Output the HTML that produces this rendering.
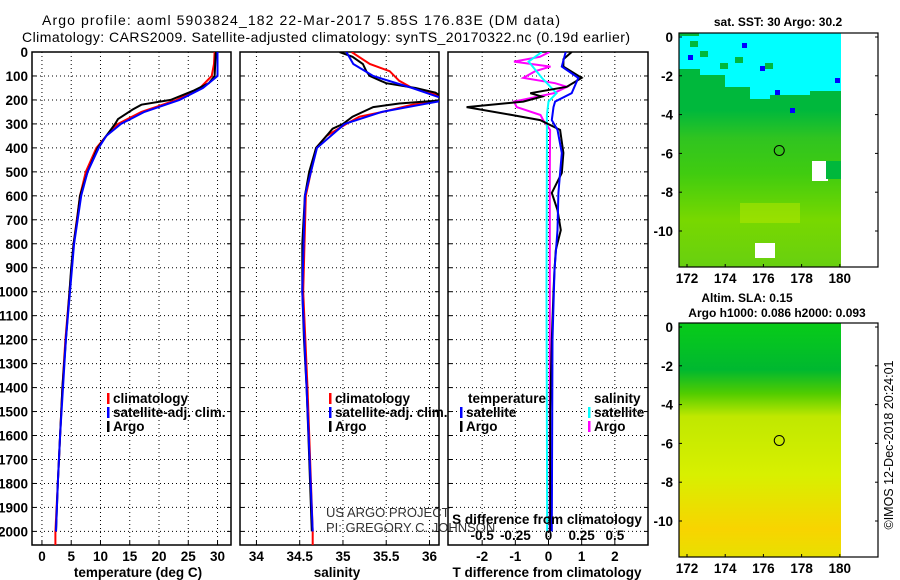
<!DOCTYPE html>
<html><head><meta charset="utf-8"><style>
html,body{margin:0;padding:0;background:#fff}
svg{display:block;font-family:"Liberation Sans",sans-serif}
.t{font-weight:bold;font-size:13.5px;fill:#000}
</style></head><body>
<svg id="c" width="900" height="580" viewBox="0 0 900 580">
<defs>
<linearGradient id="g2" x1="0" y1="0" x2="0" y2="1">
<stop offset="0" stop-color="#08cc18"/><stop offset="0.2" stop-color="#00b830"/><stop offset="0.3" stop-color="#50cc00"/><stop offset="0.4" stop-color="#c0e800"/><stop offset="0.65" stop-color="#d8f000"/><stop offset="0.88" stop-color="#f8d400"/><stop offset="1" stop-color="#e8e000"/>
</linearGradient>
<linearGradient id="g1" x1="0" y1="0" x2="0" y2="1">
<stop offset="0" stop-color="#00b83c"/><stop offset="0.33" stop-color="#00b83c"/><stop offset="0.45" stop-color="#30c420"/><stop offset="0.6" stop-color="#40cc10"/><stop offset="0.8" stop-color="#78d800"/><stop offset="1" stop-color="#68d010"/>
</linearGradient>
</defs>
<text x="42" y="25" style="font-size:14px" textLength="518">Argo profile: aoml 5903824_182 22-Mar-2017 5.85S 176.83E (DM data)</text>
<text x="22" y="42" style="font-size:14px" textLength="608">Climatology: CARS2009. Satellite-adjusted climatology: synTS_20170322.nc (0.19d earlier)</text>
<g id="plots"></g>
<g id="maps"></g>
<text transform="translate(893,445) rotate(-90)" text-anchor="middle" style="font-size:12.5px">©IMOS 12-Dec-2018 20:24:01</text>
</svg>
<script>
// ---- data ----
const depthTicks=[0,100,200,300,400,500,600,700,800,900,1000,1100,1200,1300,1400,1500,1600,1700,1800,1900,2000];
const tempTicks=[0,5,10,15,20,25,30];
const salTicks=[34,34.5,35,35.5,36];
const tdiffTicks=[-2,-1,0,1,2];
const sdiffTicks=[-0.5,-0.25,0,0.25,0.5];
const tArgoD=[0,50,100,130,160,200,220,240,280,300,350,400,500,600,700,800,900,1000,1200,1400,1600,1800,2000];
const tArgo=[29.7,29.6,29.5,28.5,26,22,17,15.5,13,12.5,11,9.5,7.8,6.5,6,5.4,5,4.7,4.1,3.5,3.1,2.7,2.4];
const tClimD=[0,50,100,150,200,250,300,350,400,500,600,800,1000,1200,1400,1600,1800,2000,2070];
const tClim=[29.5,29.4,29,27,23,17,13,11,9.3,7.5,6.5,5.4,4.7,4.0,3.5,3.1,2.7,2.3,2.3];
const tSatD=[0,100,150,200,250,300,350,400,500,600,800,1000,1200,1400,1600,1800,2000];
const tSat=[30,30,27.5,23.5,17.5,13.5,11,9.7,7.8,6.7,5.5,4.8,4.1,3.6,3.1,2.7,2.4];
const sArgoD=[0,20,50,80,100,130,150,170,200,215,230,250,270,300,320,350,400,500,600,800,1000,1200,1400,1600,1800,2000];
const sArgo=[34.96,35.11,35.23,35.27,35.31,35.5,35.84,36.07,36.2,35.65,35.35,35.23,35.11,35.0,34.88,34.81,34.69,34.61,34.56,34.53,34.53,34.55,34.58,34.6,34.62,34.64];
const sClimD=[0,50,80,120,150,180,200,220,250,270,300,350,400,600,1000,1400,2000,2070];
const sClim=[35.1,35.31,35.54,35.65,35.8,36.1,36.2,35.8,35.46,35.19,35.04,34.81,34.69,34.57,34.54,34.59,34.65,34.65];
const sSatD=[0,50,100,150,200,220,250,300,400,600,1000,1400,2000];
const sSat=[35.04,35.12,35.35,35.8,36.2,35.9,35.45,35.02,34.7,34.56,34.53,34.58,34.65];
const dTArgoD=[0,30,61,108,145,172,186,207,230,263,284,325,421,505,588,659,743,826,910,1000,1200,1500,2000];
const dTArgo=[0.7,0.45,0.45,1.0,0.55,-0.55,-0.2,-0.76,-2.47,-1.1,-0.25,0.35,0.45,0.4,0.1,0.27,0.37,0.22,0.18,0.15,0.1,0.05,0.05];
const dTSatD=[0,61,108,172,207,230,284,325,421,505,588,743,910,1200,2000];
const dTSat=[0.52,0.4,0.9,0.7,0.2,0.15,0.1,0.27,0.4,0.35,0.3,0.27,0.18,0.12,0.1];
const dSArgoD=[0,20,40,61,80,108,130,145,172,207,230,263,284,325,500,1000,2000];
const dSArgo=[0.008,-0.065,-0.26,0.015,-0.1,-0.19,0.05,0.14,0.04,-0.26,-0.24,-0.06,-0.04,0.012,0.01,0.01,0.01];
const dSSatD=[0,40,108,172,207,263,400,1000,2000];
const dSSat=[-0.05,-0.15,-0.05,0.06,0,-0.012,-0.012,-0.015,-0.01];
const latTicks=[0,-2,-4,-6,-8,-10];
const lonTicks=[172,174,176,178,180];

const NS='http://www.w3.org/2000/svg';
const root=document.getElementById('plots');
function mk(tag,attrs,parent,text){const e=document.createElementNS(NS,tag);for(const k in attrs)e.setAttribute(k,attrs[k]);if(text!==undefined)e.textContent=text;(parent||root).appendChild(e);return e;}
const top0=52,bot=545;
const yD=d=>top0+d*0.2397;
function panel(x0,x1,lo,hi,xt,name){
  const xs=v=>x0+(v-lo)/(hi-lo)*(x1-x0);
  const g=mk('g',{});
  
  
  depthTicks.forEach(d=>{if(d>0)mk('line',{x1:x0,x2:x1,y1:yD(d),y2:yD(d),stroke:'#000','stroke-width':1,'stroke-dasharray':'1 3'},g);
    mk('line',{x1:x0,x2:x0+4,y1:yD(d),y2:yD(d),stroke:'#000'},g);mk('line',{x1:x1-4,x2:x1,y1:yD(d),y2:yD(d),stroke:'#000'},g);});
  xt.forEach(v=>{mk('line',{x1:xs(v),x2:xs(v),y1:top0,y2:bot,stroke:'#000','stroke-dasharray':'1 3'},g);
    mk('line',{x1:xs(v),x2:xs(v),y1:bot-4,y2:bot,stroke:'#000'},g);});
  mk('rect',{x:x0,y:top0,width:x1-x0,height:bot-top0,fill:'none',stroke:'#000','stroke-width':1.5},g);
  return {g,xs};
}
function line(p,xs,vals,ds,color,name,w){
  let pts=ds.map((d,i)=>xs(vals[i]).toFixed(1)+','+yD(d).toFixed(1)).join(' ');
  const e=mk('polyline',{points:pts,fill:'none',stroke:color,'stroke-width':w||2},p.g);
  
  
}
function clipRect(id,x0,x1){const c=mk('clipPath',{id});mk('rect',{x:x0,y:top0,width:x1-x0,height:bot-top0},c);}
clipRect('cp1',32,231);clipRect('cp2',240,439);clipRect('cp3',448,648);

// panel 1
const p1=panel(32,231,-1.7,32.3,tempTicks,'temperature-panel');
const g1=mk('g',{'clip-path':'url(#cp1)'},p1.g);const q1={g:g1};
line(q1,p1.xs,tClim,tClimD,'#f00','climatology-temperature-line');
line(q1,p1.xs,tArgo,tArgoD,'#000','argo-temperature-line');
line(q1,p1.xs,tSat,tSatD,'#00f','satellite-temperature-line');
depthTicks.forEach(d=>{const t=mk('text',{x:28,y:yD(d)+5,'text-anchor':'end',class:'t'},root,d);
  });
tempTicks.forEach(v=>{const t=mk('text',{x:p1.xs(v),y:561,'text-anchor':'middle',class:'t'},root,v);
  });
mk('text',{x:138,y:577,'text-anchor':'middle',class:'t'},root,'temperature (deg C)');

// panel 2
const p2=panel(240,439,33.81,36.11,salTicks,'salinity-panel');
const g2=mk('g',{'clip-path':'url(#cp2)'},p2.g);const q2={g:g2};
line(q2,p2.xs,sClim,sClimD,'#f00','climatology-salinity-line');
line(q2,p2.xs,sArgo,sArgoD,'#000','argo-salinity-line');
line(q2,p2.xs,sSat,sSatD,'#00f','satellite-salinity-line');
salTicks.forEach(v=>{const t=mk('text',{x:p2.xs(v),y:561,'text-anchor':'middle',class:'t'},root,v);
  });
mk('text',{x:337,y:577,'text-anchor':'middle',class:'t'},root,'salinity');

// panel 3
const p3=panel(448,648,-3.03,3.0,tdiffTicks,'difference-panel');
const g3=mk('g',{'clip-path':'url(#cp3)'},p3.g);const q3={g:g3};
const xs3=p3.xs, xsS=v=>p3.xs(v*4);
line(q3,xsS,dSArgo,dSArgoD,'#f0f','argo-salinity-diff-line');
line(q3,xsS,dSSat,dSSatD,'#0ff','satellite-salinity-diff-line');
line(q3,xs3,dTArgo,dTArgoD,'#000','argo-temperature-diff-line');
line(q3,xs3,dTSat,dTSatD,'#00f','satellite-temperature-diff-line');
tdiffTicks.forEach(v=>{const t=mk('text',{x:xs3(v),y:561,'text-anchor':'middle',class:'t'},root,v);
  });
sdiffTicks.forEach(v=>{const t=mk('text',{x:xsS(v),y:540,'text-anchor':'middle',class:'t'},root,v);
  });
mk('text',{x:547,y:524,'text-anchor':'middle',class:'t'},root,'S difference from climatology');
mk('text',{x:547,y:577,'text-anchor':'middle',class:'t'},root,'T difference from climatology');

// legends
function leg(x,y,color,label,name){const g=mk('g',{});
  if(color)mk('rect',{x:x,y:y-10,width:2.5,height:11,fill:color},g);
  mk('text',{x:x+(color?6:0),y:y,class:'t'},g,label);}
leg(107,403,'#f00','climatology','legend-climatology');
leg(107,417,'#00f','satellite-adj. clim.','legend-satellite-adj');
leg(107,431,'#000','Argo','legend-argo');
leg(329,403,'#f00','climatology','legend-climatology-2');
leg(329,417,'#00f','satellite-adj. clim.','legend-satellite-adj-2');
leg(329,431,'#000','Argo','legend-argo-2');
leg(468,403,null,'temperature','legend-temperature-header');
leg(460,417,'#00f','satellite','legend-t-satellite');
leg(460,431,'#000','Argo','legend-t-argo');
leg(594,403,null,'salinity','legend-salinity-header');
leg(588,417,'#0ff','satellite','legend-s-satellite');
leg(588,431,'#f0f','Argo','legend-s-argo');
mk('text',{x:326,y:517,style:'font-size:13px;fill:#333'},root,'US ARGO PROJECT');
mk('text',{x:326,y:532,style:'font-size:13px;fill:#333'},root,'PI: GREGORY C. JOHNSON');

// maps
const M=document.getElementById('maps');
function map(y0,fill,title,titleY,name){
  const g=mk('g',{},M);
  const x0=679,x1=878,ymax=y0+234;
  const lat=v=>y0+4+(-v)*19.4, lon=v=>687+(v-172)*19.1;
  mk('rect',{x:x0,y:y0,width:841-x0,height:234,fill:fill},g);
  if(name==='sst-map'){
    mk('path',{d:`M679 ${y0} H841 V${y0+58} H810 V${y0+62} H770 V${y0+66} H750 V${y0+54} H725 V${y0+42} H700 V${y0+36} H679 Z`,fill:'#00ffff'},g);
    mk('rect',{x:679,y:y0,width:20,height:3,fill:'#00b83c'},g);
    [[700,y0+18],[735,y0+24],[765,y0+30],[690,y0+8],[720,y0+30]].forEach(p=>mk('rect',{x:p[0],y:p[1],width:8,height:6,fill:'#00b83c'},g));
    [[688,y0+22],[760,y0+33],[835,y0+45],[775,y0+57],[790,y0+75],[742,y0+10]].forEach(p=>mk('rect',{x:p[0],y:p[1],width:5,height:5,fill:'#0000ff'},g));
    mk('rect',{x:812,y:y0+128,width:16,height:20,fill:'#fff'},g);
    mk('rect',{x:826,y:y0+128,width:15,height:18,fill:'#00b83c'},g);
    mk('rect',{x:755,y:y0+210,width:20,height:15,fill:'#fff'},g);
    mk('rect',{x:740,y:y0+170,width:60,height:20,fill:'#b8e800',opacity:0.5},g);
  }
  mk('circle',{cx:lon(176.83),cy:lat(-5.85),r:5,fill:'none',stroke:'#000'},g);
  mk('rect',{x:x0,y:y0,width:x1-x0,height:234,fill:'none',stroke:'#000','stroke-width':1.2},g);
  latTicks.forEach(v=>{mk('line',{x1:x0,x2:x0+3,y1:lat(v),y2:lat(v),stroke:'#000'},g);mk('line',{x1:x1-3,x2:x1,y1:lat(v),y2:lat(v),stroke:'#000'},g);
    const t=mk('text',{x:673,y:lat(v)+5,'text-anchor':'end',class:'t'},g,v);});
  lonTicks.forEach(v=>{mk('line',{x1:lon(v),x2:lon(v),y1:ymax-3,y2:ymax,stroke:'#000'},g);
    const t=mk('text',{x:lon(v),y:ymax+16,'text-anchor':'middle',class:'t'},g,v);});
  title.forEach((s,i)=>mk('text',{x:s[1],y:titleY[i],'text-anchor':'middle',class:'t',style:'font-size:12px'},g,s[0]));
}
map(33,'url(#g1)',[['sat. SST: 30 Argo: 30.2',778]],[26],'sst-map');
map(323,'url(#g2)',[['Altim. SLA: 0.15',747],['Argo h1000: 0.086 h2000: 0.093',777]],[302,317],'sla-map');
</script>
</body></html>
